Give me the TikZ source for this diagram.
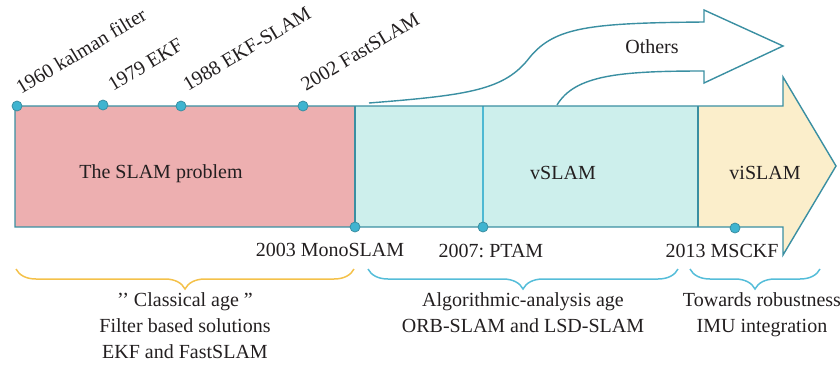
\documentclass[tikz,border=0pt]{standalone}
\usepackage{fontspec}
\setmainfont{Liberation Serif}
\usetikzlibrary{decorations.pathreplacing}
\frenchspacing
\definecolor{pinkf}{HTML}{EDAFB0}
\definecolor{cyanf}{HTML}{CDEFEC}
\definecolor{yelf}{HTML}{FBEECB}
\definecolor{edgec}{HTML}{3A8FA2}
\definecolor{dotf}{HTML}{3FB4D0}
\definecolor{divc}{HTML}{4DB9D3}
\definecolor{bracey}{HTML}{F4C14A}
\definecolor{bracec}{HTML}{55BDD9}
\definecolor{txt}{HTML}{231F20}
\tikzset{
  lbl/.style={font=\fontsize{20}{26}\selectfont\frenchspacing, text=txt, inner sep=0pt},
  datelbl/.style={lbl, rotate=31, anchor=base west},
  dot/.style={circle, inner sep=0pt, minimum size=10pt, fill=dotf, draw=edgec, line width=0.8pt},
  outl/.style={draw=edgec, line width=1.4pt, line join=miter},
  bracestyle/.style={decorate, decoration={brace, amplitude=20pt, aspect=0.5}, line width=1.5pt},
}
\begin{document}
\begin{tikzpicture}[x=1pt,y=-1pt]
\useasboundingbox (0,0) rectangle (840,373);
% Others arrow
\path[outl, fill=white] (369,103) .. controls (470,95) and (505,90) .. (530,57)
  .. controls (555,27) and (590,23) .. (704,22) -- (704,10) -- (783,46) -- (704,83) -- (704,71)
  .. controls (620,71) and (575,75) .. (557,105);
\node[lbl] (others) at (652,47) {Others};
% bar
\path[fill=pinkf] (15,106) rectangle (355,227);
\path[fill=cyanf] (355,106) rectangle (698,227);
\path[fill=yelf] (698,106) -- (783,106) -- (783,77) -- (836,166) -- (783,255) -- (783,227) -- (698,227) -- cycle;
\draw[divc, line width=1.2pt] (483,106) -- (483,227);
\draw[outl] (698,106) -- (698,227);
\draw[outl] (355,106) -- (355,227);
\draw[outl] (15,227) -- (15,106) -- (783,106) -- (783,77) -- (836,166) -- (783,255) -- (783,227) -- cycle;
\node[lbl] (slam) at (161,174) {The SLAM problem};
\node[lbl] (vslam) at (563,173) {vSLAM};
\node[lbl] (vislam) at (765,173) {viSLAM};
% top dots and labels
\node[dot] (d1) at (17,106) {};
\node[dot] (d2) at (103,105) {};
\node[dot] (d3) at (181,106) {};
\node[dot] (d4) at (303,106) {};
\node[datelbl] (l1) at (21,95) {1960 kalman filter};
\node[datelbl] (l2) at (113,92) {1979 EKF};
\node[datelbl] (l3) at (188,92) {1988 EKF-SLAM};
\node[datelbl] (l4) at (306,92) {2002 FastSLAM};
% bottom dots and labels
\node[dot] (d5) at (355,227) {};
\node[dot] (d6) at (483,227) {};
\node[dot] (d7) at (735,228) {};
\node[lbl] (b1) at (330,250) {2003 MonoSLAM};
\node[lbl] (b2) at (491,251) {2007: PTAM};
\node[lbl] (b3) at (722,251) {2013 MSCKF};
% braces
\draw[bracestyle, bracey] (354,269) -- (16,269);
\draw[bracestyle, bracec] (678,269) -- (368,269);
\draw[bracestyle, bracec] (820,269) -- (690,269);
\node[lbl, align=center, anchor=north] (t1) at (185,292) {’’ Classical age ”\\Filter based solutions\\EKF and FastSLAM};
\node[lbl, align=center, anchor=north] (t2) at (523,292) {Algorithmic-analysis age\\ORB-SLAM and LSD-SLAM};
\node[lbl, align=center, anchor=north] (t3) at (762,292) {Towards robustness\\IMU integration};
\end{tikzpicture}
\end{document}
